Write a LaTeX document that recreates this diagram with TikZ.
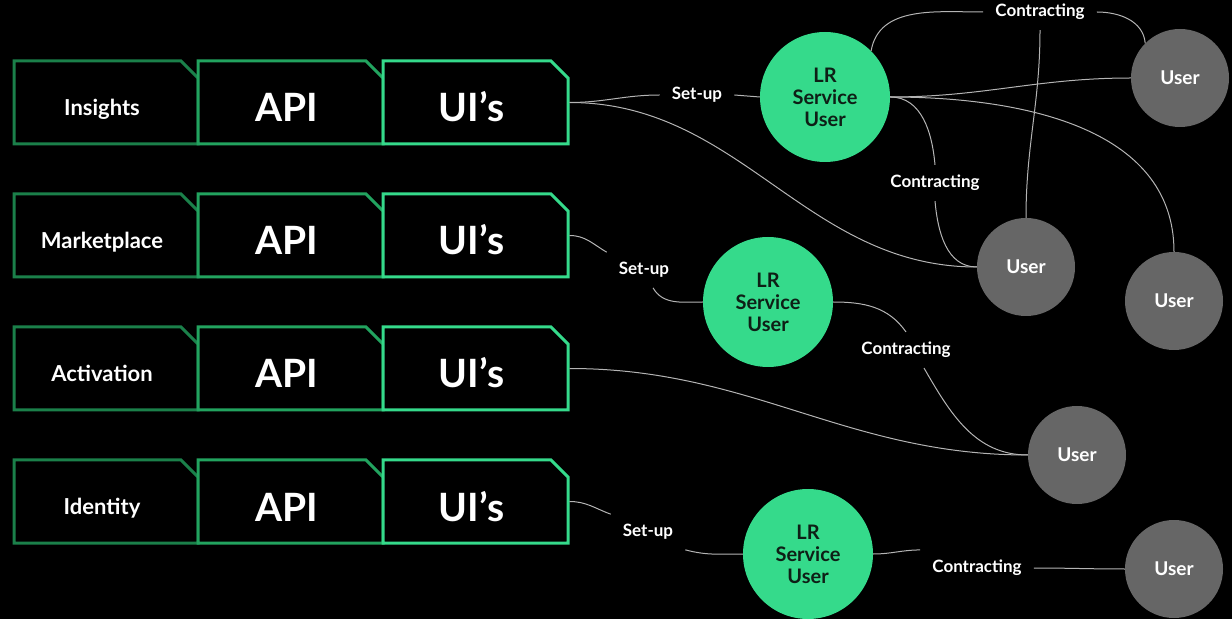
\documentclass[tikz,border=0pt]{standalone}
\usepackage{fontspec}
\setmainfont{Lato}
\usetikzlibrary{shapes.misc}

\definecolor{mint}{HTML}{35DA8B}
\definecolor{midgreen}{HTML}{22A35F}
\definecolor{darkgreen}{HTML}{1B804A}
\definecolor{usergrey}{HTML}{666666}
\definecolor{wiregrey}{HTML}{B4B4B4}
\definecolor{ink}{HTML}{0E1F16}

\tikzset{
  tile/.style={chamfered rectangle, chamfered rectangle corners=north east,
    chamfered rectangle xsep=9pt, chamfered rectangle ysep=8pt,
    minimum width=185pt, minimum height=83pt, inner sep=0pt,
    line width=3pt, fill=black, text=white,
    execute at end node={\hspace{8pt}}},
  cat/.style={tile, draw=darkgreen, minimum width=184pt,
    text height=27pt, text depth=0pt,
    font=\bfseries\fontsize{22}{24}\selectfont},
  api/.style={tile, draw=midgreen, text height=39pt, text depth=0pt,
    font=\bfseries\fontsize{39}{42}\selectfont},
  uis/.style={api, draw=mint},
  lr/.style={circle, fill=mint, minimum size=130pt, inner sep=0pt, text=ink,
    align=center, font=\bfseries\fontsize{20}{22}\selectfont},
  user/.style={circle, fill=usergrey, minimum size=98pt, inner sep=0pt,
    text=white, font=\bfseries\fontsize{19}{21}\selectfont},
  tag/.style={text=white, inner xsep=12pt, inner ysep=10pt,
    font=\bfseries\fontsize{17}{19}\selectfont},
  wire/.style={draw=wiregrey, line width=1pt}
}

\begin{document}
\begin{tikzpicture}[x=1pt, y=1pt]
  \fill[black] (0,0) rectangle (1232,619);
  \useasboundingbox (0,0) rectangle (1232,619);

  % product rows: category, API, UI's
  \node[cat] (cat1) at (106,516.5) {Insights};
  \node[api] (api1) at (290.5,516.5) {API};
  \node[uis] (ui1)  at (475.5,516.5) {UI’s};

  \node[cat] (cat2) at (106,383.5) {Marketplace};
  \node[api] (api2) at (290.5,383.5) {API};
  \node[uis] (ui2)  at (475.5,383.5) {UI’s};

  \node[cat] (cat3) at (106,250.5) {Activation};
  \node[api] (api3) at (290.5,250.5) {API};
  \node[uis] (ui3)  at (475.5,250.5) {UI’s};

  \node[cat] (cat4) at (106,117.5) {Identity};
  \node[api] (api4) at (290.5,117.5) {API};
  \node[uis] (ui4)  at (475.5,117.5) {UI’s};

  % service users
  \node[lr] (lr1) at (825,522) {LR\\Service\\User};
  \node[lr] (lr2) at (768,317) {LR\\Service\\User};
  \node[lr] (lr3) at (808,65)  {LR\\Service\\User};

  % end users
  \node[user] (u1) at (1180,541) {User};
  \node[user] (u2) at (1026,352) {User};
  \node[user] (u3) at (1174,318) {User};
  \node[user] (u4) at (1077,164) {User};
  \node[user] (u5) at (1174,50)  {User};

  % connector labels
  \node[tag] (su1) at (697,524) {Set-up};
  \node[tag] (su2) at (644,349) {Set-up};
  \node[tag] (su3) at (648,87)  {Set-up};
  \node[tag] (ct1) at (1040,607) {Contracting};
  \node[tag] (ct2) at (935,436)  {Contracting};
  \node[tag] (ct3) at (906,269)  {Contracting};
  \node[tag] (ct4) at (977,51)   {Contracting};

  % Insights row
  \draw[wire] (ui1.east) to[out=0,in=180] (su1.west);
  \draw[wire] (su1.east) -- (lr1.west);
  \draw[wire] (ui1.east) to[out=0,in=180] (u2.west);
  \draw[wire] (lr1.45) to[out=80,in=180] (ct1.west);
  \draw[wire] (ct1.east) to[out=0,in=95] (u1.135);
  \draw[wire] (ct1.south) to[out=-90,in=90] (u2.north);
  \draw[wire] (lr1.east) to[out=0,in=180] (u1.west);
  \draw[wire] (lr1.east) to[out=0,in=95] (ct2.north);
  \draw[wire] (ct2.south) to[out=-85,in=180] (u2.west);
  \draw[wire] (lr1.east) to[out=0,in=90] (u3.north);

  % Marketplace row
  \draw[wire] (ui2.east) to[out=0,in=150] (su2.north west);
  \draw[wire] ([xshift=9pt]su2.south) to[out=-60,in=180] (lr2.west);
  \draw[wire] (lr2.east) to[out=0,in=125] (ct3.north);
  \draw[wire] ([xshift=18pt]ct3.south) to[out=-60,in=180] (u4.west);

  % Activation row
  \draw[wire] (ui3.east) to[out=0,in=180] (u4.west);

  % Identity row
  \draw[wire] (ui4.east) to[out=0,in=160] (su3.north west);
  \draw[wire] (su3.south east) to[out=-15,in=180] (lr3.west);
  \draw[wire] (lr3.east) to[out=0,in=180] (ct4.north west);
  \draw[wire] (ct4.east) to[out=0,in=180] (u5.west);
\end{tikzpicture}
\end{document}
